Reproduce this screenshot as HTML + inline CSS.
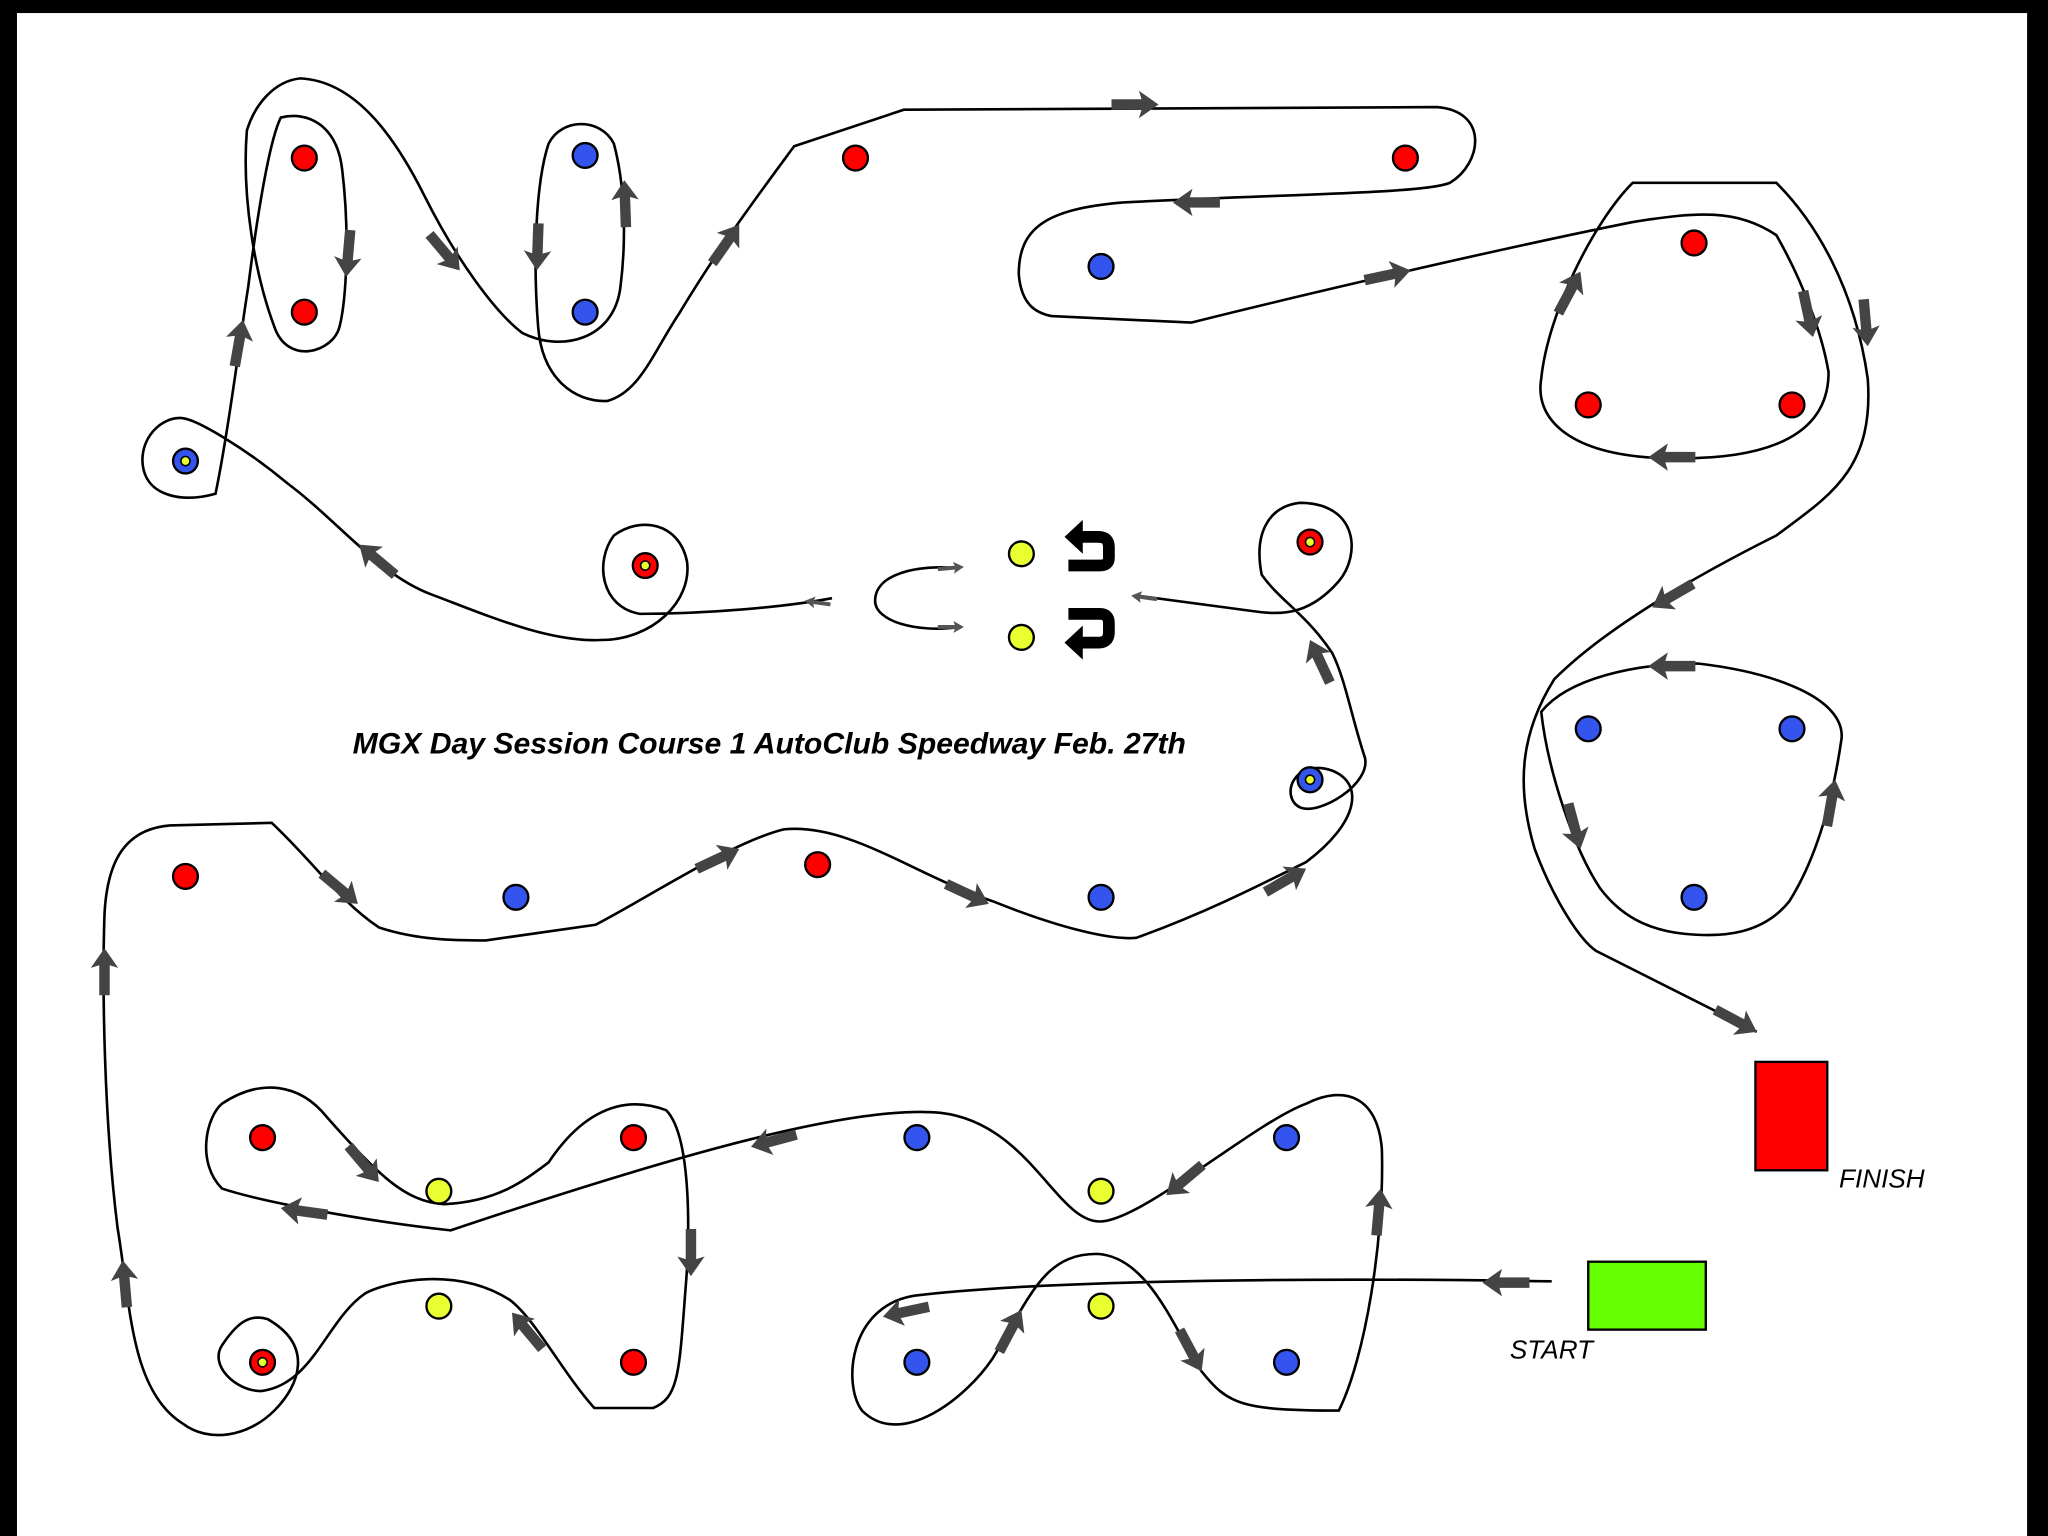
<!DOCTYPE html>
<html><head><meta charset="utf-8"><style>html,body{margin:0;padding:0;background:#fff}svg{display:block}</style></head>
<body>
<svg width="2048" height="1536" viewBox="0 0 1568 1176" preserveAspectRatio="none" xmlns="http://www.w3.org/2000/svg">
<defs>
<g id="ar"><polygon points="-36,-4 -13,-4 -15,-10.5 0,0 -15,10.5 -13,4 -36,4" fill="#444"/></g>
<g id="sa"><polygon points="-20,-1.5 -7,-1.5 -8,-4.5 0,0 -8,4.5 -7,1.5 -20,1.5" fill="#555"/></g>
</defs>
<rect x="0" y="0" width="1568" height="1176" fill="#fff"/>
<rect x="0" y="0" width="1568" height="10" fill="#000"/>
<rect x="0" y="0" width="13" height="1176" fill="#000"/>
<rect x="1552" y="0" width="16" height="1176" fill="#000"/>
<g fill="none" stroke="#000" stroke-width="2">
<path d="M1188,981 C1000,978 800,980 700,992 C650,1000 645,1060 660,1080 C690,1110 740,1070 760,1040 C790,990 800,960 840,960 C880,962 900,1020 920,1050 C940,1075 950,1080 1025,1080 C1045,1040 1060,950 1058,880 C1055,840 1030,830 1000,845 C960,860 880,930 845,935 C810,940 790,860 720,852 C650,845 500,890 345,942 C280,935 200,920 170,910 C150,890 158,855 170,845 C200,825 230,830 250,855 C290,900 310,920 340,922 C380,920 400,905 420,890 C440,860 470,835 510,850 C530,870 528,950 525,985 C520,1050 520,1070 500,1078 L455,1078 C430,1050 410,1010 390,995 C350,970 300,980 280,990 C250,1010 240,1060 200,1065 C180,1065 160,1045 170,1030 C180,1015 190,1005 205,1010 C240,1030 230,1060 210,1080 C190,1100 160,1105 140,1090 C100,1065 100,1000 90,940 C80,860 78,760 80,700 C82,660 95,635 130,632 L208,630 C240,660 260,690 290,710 C320,720 350,720 372,720 L456,708 C500,685 560,645 600,635 C650,630 700,670 760,690 C810,710 850,720 870,718 C920,700 960,680 1000,660 C1040,630 1045,600 1020,590 C990,580 980,610 995,618 C1010,625 1050,600 1045,580 C1035,550 1030,520 1020,500 C1000,470 980,460 966,440 C960,410 970,388 995,385 C1040,385 1042,425 1025,445 C1005,468 985,472 960,468 L870,456"/>
<path d="M735,435 C700,432 670,440 670,460 C670,475 700,485 735,480"/>
<path d="M637,458 C600,465 540,470 490,470 C460,465 455,430 470,410 C490,395 520,400 526,430 C530,460 500,490 460,490 C420,492 370,470 330,455 C290,440 260,400 220,370 C190,345 150,320 138,320 C120,320 105,340 110,360 C115,380 140,385 165,378 C175,330 185,250 190,220 C195,180 205,110 215,90 C235,85 258,95 262,130 C268,180 265,230 260,250 C255,270 220,280 210,250 C195,210 185,150 189,100 C195,80 210,62 230,60 C270,62 300,100 325,150 C350,200 380,240 400,255 C430,270 470,260 475,220 C480,180 478,140 470,110 C460,90 430,90 420,110 C410,140 408,200 412,250 C415,290 440,308 465,307 C490,300 500,270 520,240 C550,190 580,150 608,112 L692,84 L1100,82 C1140,85 1135,125 1110,140 C1090,148 1000,148 860,155 C800,160 780,175 780,210 C782,235 795,240 805,242 L912,247 C1000,225 1150,190 1250,170 C1300,162 1330,160 1360,180 C1380,215 1395,255 1400,285 C1400,340 1340,355 1260,350 C1200,345 1175,320 1180,290 C1185,240 1220,170 1250,140 L1360,140 C1390,170 1420,220 1430,290 C1435,360 1400,380 1360,410 C1300,440 1230,480 1190,520 C1165,560 1160,600 1175,650 C1190,690 1210,720 1222,728 L1345,790"/>
<path d="M1300,508 C1360,515 1412,535 1410,565 C1405,600 1395,650 1370,690 C1350,715 1320,718 1290,715 C1260,712 1240,700 1225,680 C1205,650 1185,590 1180,545 C1200,520 1250,508 1300,508"/>
</g>
<g>
<use href="#ar" transform="translate(265,212) rotate(95)"/>
<use href="#ar" transform="translate(352,207) rotate(50)"/>
<use href="#ar" transform="translate(411,207) rotate(92)"/>
<use href="#ar" transform="translate(478,138) rotate(-92)"/>
<use href="#ar" transform="translate(566,172) rotate(-55)"/>
<use href="#ar" transform="translate(887,80) rotate(0)"/>
<use href="#ar" transform="translate(898,155) rotate(180)"/>
<use href="#ar" transform="translate(1080,207) rotate(-12)"/>
<use href="#ar" transform="translate(1210,208) rotate(-62)"/>
<use href="#ar" transform="translate(1388,258) rotate(78)"/>
<use href="#ar" transform="translate(1430,265) rotate(85)"/>
<use href="#ar" transform="translate(1262,350) rotate(180)"/>
<use href="#ar" transform="translate(1265,465) rotate(150)"/>
<use href="#ar" transform="translate(1262,510) rotate(180)"/>
<use href="#ar" transform="translate(1210,650) rotate(75)"/>
<use href="#ar" transform="translate(1405,597) rotate(-80)"/>
<use href="#ar" transform="translate(1345,790) rotate(28)"/>
<use href="#ar" transform="translate(1135,982) rotate(180)"/>
<use href="#ar" transform="translate(676,1008) rotate(168)"/>
<use href="#ar" transform="translate(782,1003) rotate(-62)"/>
<use href="#ar" transform="translate(920,1050) rotate(62)"/>
<use href="#ar" transform="translate(1057,910) rotate(-85)"/>
<use href="#ar" transform="translate(893,915) rotate(140)"/>
<use href="#ar" transform="translate(575,878) rotate(165)"/>
<use href="#ar" transform="translate(215,925) rotate(188)"/>
<use href="#ar" transform="translate(290,905) rotate(50)"/>
<use href="#ar" transform="translate(529,977) rotate(90)"/>
<use href="#ar" transform="translate(392,1005) rotate(-130)"/>
<use href="#ar" transform="translate(94,965) rotate(-95)"/>
<use href="#ar" transform="translate(80,726) rotate(-90)"/>
<use href="#ar" transform="translate(274,692) rotate(40)"/>
<use href="#ar" transform="translate(566,650) rotate(-25)"/>
<use href="#ar" transform="translate(757,692) rotate(25)"/>
<use href="#ar" transform="translate(1000,665) rotate(-30)"/>
<use href="#ar" transform="translate(1003,490) rotate(-115)"/>
<use href="#ar" transform="translate(275,417) rotate(-140)"/>
<use href="#ar" transform="translate(186,245) rotate(-80)"/>
<use href="#sa" transform="translate(866,456) rotate(188)"/>
<use href="#sa" transform="translate(616,460) rotate(188)"/>
<use href="#sa" transform="translate(738,434) rotate(-5)"/>
<use href="#sa" transform="translate(738,480) rotate(0)"/>
</g>
<g stroke="#000" stroke-width="1.8">
<g fill="#ff0000">
<circle cx="233" cy="121" r="9.5"/><circle cx="233" cy="239" r="9.5"/><circle cx="655" cy="121" r="9.5"/><circle cx="1076" cy="121" r="9.5"/><circle cx="1297" cy="186" r="9.5"/><circle cx="1216" cy="310" r="9.5"/><circle cx="1372" cy="310" r="9.5"/><circle cx="142" cy="671" r="9.5"/><circle cx="626" cy="662" r="9.5"/><circle cx="201" cy="871" r="9.5"/><circle cx="485" cy="871" r="9.5"/><circle cx="485" cy="1043" r="9.5"/>
<circle cx="494" cy="433" r="9.5"/><circle cx="1003" cy="415" r="9.5"/><circle cx="201" cy="1043" r="9.5"/>
</g>
<g fill="#3355ee">
<circle cx="448" cy="119" r="9.5"/><circle cx="448" cy="239" r="9.5"/><circle cx="843" cy="204" r="9.5"/><circle cx="1216" cy="558" r="9.5"/><circle cx="1372" cy="558" r="9.5"/><circle cx="1297" cy="687" r="9.5"/><circle cx="395" cy="687" r="9.5"/><circle cx="843" cy="687" r="9.5"/><circle cx="702" cy="871" r="9.5"/><circle cx="985" cy="871" r="9.5"/><circle cx="702" cy="1043" r="9.5"/><circle cx="985" cy="1043" r="9.5"/>
<circle cx="142" cy="353" r="9.5"/><circle cx="1003" cy="597" r="9.5"/>
</g>
<g fill="#eaff30">
<circle cx="782" cy="424" r="9.5"/><circle cx="782" cy="488" r="9.5"/><circle cx="336" cy="912" r="9.5"/><circle cx="843" cy="912" r="9.5"/><circle cx="336" cy="1000" r="9.5"/><circle cx="843" cy="1000" r="9.5"/>
</g>
<g fill="#eaff30" stroke-width="1.2">
<circle cx="142" cy="353" r="3.5"/><circle cx="1003" cy="597" r="3.5"/><circle cx="494" cy="433" r="3.5"/><circle cx="1003" cy="415" r="3.5"/><circle cx="201" cy="1043" r="3.5"/>
</g>
</g>
<g fill="none" stroke="#000" stroke-width="9">
<path d="M826,411 H841 Q849,411 849,419 V427 Q849,433 842,433 H818"/>
<path d="M818,470 H842 Q849,470 849,477 V484 Q849,492 841,492 H826"/>
</g>
<polygon points="815,411 829,398 829,424" fill="#000"/>
<polygon points="815,492 829,479 829,505" fill="#000"/>
<text x="270" y="577" font-family="Liberation Sans, sans-serif" font-size="23" font-weight="bold" font-style="italic" textLength="638" lengthAdjust="spacingAndGlyphs">MGX Day Session Course 1 AutoClub Speedway Feb. 27th</text>
<rect x="1216" y="966" width="90" height="52" fill="#66ff00" stroke="#000" stroke-width="1.8"/>
<rect x="1344" y="813" width="55" height="83" fill="#ff0000" stroke="#000" stroke-width="1.8"/>
<text x="1156" y="1040" font-family="Liberation Sans, sans-serif" font-size="20" font-style="italic">START</text>
<text x="1408" y="909" font-family="Liberation Sans, sans-serif" font-size="20" font-style="italic">FINISH</text>
</svg>
</body></html>
